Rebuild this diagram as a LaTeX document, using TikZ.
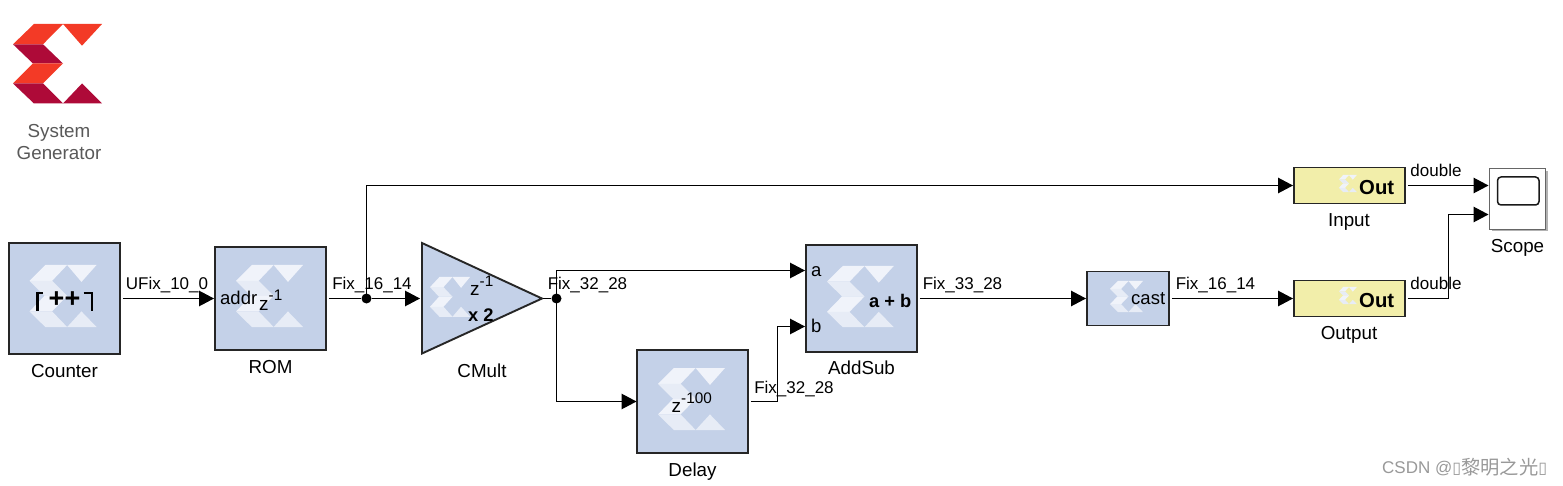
\documentclass[tikz,border=0pt]{standalone}
\usepackage{fontspec}
\setmainfont{Liberation Sans}
\newfontfamily\cjkfont{Noto Sans CJK SC}
\newfontfamily\symfont{DejaVu Sans}
\usetikzlibrary{arrows.meta,calc}
\definecolor{blockblue}{HTML}{C4D1E8}
\definecolor{gatewayyellow}{HTML}{F2EEAA}
\definecolor{logored}{HTML}{F33A26}
\definecolor{logodark}{HTML}{AE0A38}
\definecolor{wmtop}{HTML}{F0F3FA}
\definecolor{wmlow}{HTML}{E7ECF6}
\newcommand{\xlogo}[6]{%
\begin{scope}[shift={(#1,#2)},xscale=#3,yscale=#4]
\fill[#5] (21,0)--(50,0)--(30,20.3)--(0,20.3)--cycle;
\fill[#5] (50,0)--(89,0)--(69,21.7)--cycle;
\fill[#6] (0,20.3)--(30,20.3)--(50,39.5)--(20,39.5)--cycle;
\fill[#5] (20,39.5)--(50,39.5)--(30,59.5)--(0,59.5)--cycle;
\fill[#6] (0,59.5)--(30,59.5)--(50,79.5)--(21,79.5)--cycle;
\fill[#6] (50,79.5)--(69,59.5)--(89,79.5)--cycle;
\end{scope}}
\newcommand{\zexp}[1]{{\fontsize{19}{20}\selectfont z}\raisebox{9.5pt}{\fontsize{15.3}{17}\selectfont #1}}
\tikzset{
  bl/.style={draw=black!85,line width=1.9pt,fill=blockblue,inner sep=0pt,minimum width=#1},
  gw/.style={draw=black!85,line width=1.9pt,fill=gatewayyellow,inner sep=0pt,minimum width=111pt,minimum height=36pt},
  sig/.style={anchor=base,inner sep=0pt,font=\fontsize{17}{18}\selectfont},
  capt/.style={anchor=base,inner sep=0pt,font=\fontsize{18.8}{20}\selectfont},
  intxt/.style={anchor=base,inner sep=0pt,font=\fontsize{18.5}{19}\selectfont},
  boldtxt/.style={anchor=base,inner sep=0pt,font=\fontsize{18.3}{20}\selectfont\bfseries},
  wire/.style={line width=1.2pt,black},
  arr/.style={wire,-{Triangle[length=15pt,width=15.5pt]}},
  jdot/.style={circle,fill=black,inner sep=0pt,minimum size=10pt}
}
\begin{document}
\begin{tikzpicture}[x=1pt,y=-1pt]
\useasboundingbox (0,0) rectangle (1563,486);
\fill[white] (0,0) rectangle (1563,486);
% company logo
\xlogo{13}{24}{1}{1}{logored}{logodark}
\node[capt,text=black!65] (sys) at (59,138) {System};
\node[capt,text=black!65] (gen) at (59,160) {Generator};
% blocks
\node[bl=111pt,minimum height=111pt] (counter) at (64.5,298.5) {};
\xlogo{29.5}{265}{.753}{.78}{wmtop}{wmlow}
\draw[line width=2.5pt] (43,293)--(37.5,293)--(37.5,310.5);
\draw[line width=2.5pt] (83.5,293)--(92,293)--(92,310.5);
\node[anchor=center,inner sep=0pt,font=\fontsize{27}{28}\selectfont\bfseries] (pp) at (64.5,300) {++};
\node[bl=111pt,minimum height=103pt] (rom) at (270.5,298.5) {};
\xlogo{236}{265}{.753}{.78}{wmtop}{wmlow}
\node[intxt,anchor=base west] (addr) at (220,305) {addr};
\node[intxt,anchor=base west] (romz) at (259,310) {\zexp{-1}};
\draw[line width=1.9pt,draw=black!85,fill=blockblue] (422,243)--(542,298.5)--(422,353.5)--cycle;
\coordinate (cmultin) at (420,298.5);
\coordinate (cmultout) at (543,298.5);
\xlogo{430}{277}{.45}{.5}{wmtop}{wmlow}
\node[intxt,anchor=base west] (cmz) at (470,296) {\zexp{-1}};
\node[boldtxt,anchor=base west] (x2) at (468,321) {x 2};
\node[bl=111pt,minimum height=107pt] (addsub) at (861.5,298.5) {};
\xlogo{827}{266}{.75}{.77}{wmtop}{wmlow}
\node[intxt,anchor=base west] (pa) at (811,276.5) {a};
\node[intxt,anchor=base west] (pb) at (811,332.5) {b};
\node[boldtxt,anchor=base west] (apb) at (869,307.5) {a + b};
\node[bl=111pt,minimum height=103pt] (delay) at (692.5,401.5) {};
\xlogo{658}{368}{.753}{.78}{wmtop}{wmlow}
\node[intxt,anchor=base west] (dz) at (671.5,412.5) {\zexp{-100}};
\node[bl=82pt,minimum height=54pt] (cast) at (1128,298.5) {};
\xlogo{1110}{281}{.37}{.39}{wmtop}{wmlow}
\node[intxt,anchor=base west] (casttxt) at (1131,305) {cast};
\node[gw] (input) at (1349.5,185.5) {};
\xlogo{1339}{175}{.2}{.215}{wmtop}{wmlow}
\node[anchor=base west,inner sep=0pt,font=\fontsize{20.3}{22}\selectfont\bfseries] (o1) at (1359,195) {Out};
\node[gw] (output) at (1349.5,298.5) {};
\xlogo{1339}{287}{.2}{.215}{wmtop}{wmlow}
\node[anchor=base west,inner sep=0pt,font=\fontsize{20.3}{22}\selectfont\bfseries] (o2) at (1359,307) {Out};
\fill[black!30] (1491.5,171.5) rectangle (1547.5,231.5);
\node[draw=black!60,line width=1pt,fill=white,inner sep=0pt,minimum width=56pt,minimum height=61pt] (scope) at (1517.5,199.5) {};
\draw[line width=1.5pt,rounded corners=3.5pt,black!90] (1497.5,177)rectangle (1539,205);
% captions
\node[capt] (lcounter) at (64.5,377) {Counter};
\node[capt] (lrom) at (270.5,373) {ROM};
\node[capt] (lcmult) at (482,377) {CMult};
\node[capt] (ldelay) at (692.5,476) {Delay};
\node[capt] (laddsub) at (861.5,374) {AddSub};
\node[capt] (linput) at (1349,227) {Input};
\node[capt] (loutput) at (1349,339) {Output};
\node[capt] (lscope) at (1517.5,252.5) {Scope};
% ports and junctions
\coordinate (romin) at (214,298.5);
\coordinate (ain) at (805,270.5);
\coordinate (bin) at (805,326.5);
\coordinate (delayin) at (636.5,401.5);
\coordinate (castin) at (1086,298.5);
\coordinate (in1) at (1293,185.5);
\coordinate (in2) at (1293,298.5);
\coordinate (sc1) at (1488.5,185.5);
\coordinate (sc2) at (1488.5,214.5);
\node[jdot] (j1) at (366.5,298.5) {};
\node[jdot] (j2) at (556.5,298.5) {};
% connectors
\draw[arr,shorten <=2pt] (counter.east) -- (romin);
\draw[wire,shorten <=2pt] (rom.east) -- (j1);
\draw[arr] (j1) -- (cmultin);
\draw[arr] (j1.center) |- (in1);
\draw[wire] (cmultout) -- (j2);
\draw[arr] (j2.center) |- (ain);
\draw[arr] (j2.center) |- (delayin);
\draw[arr,shorten <=2pt] (delay.east) -- (777.5,401.5) |- (bin);
\draw[arr,shorten <=2pt] (addsub.east) -- (castin);
\draw[arr,shorten <=2pt] (cast.east) -- (in2);
\draw[arr,shorten <=2pt] (input.east) -- (sc1);
\draw[arr,shorten <=2pt] (output.east) -- (1448.5,298.5) |- (sc2);
% signal labels
\node[sig] (s1) at (167,290) {UFix\_10\_0};
\node[sig] (s2) at (372,290) {Fix\_16\_14};
\node[sig] (s3) at (587.5,290) {Fix\_32\_28};
\node[sig] (s4) at (794,393) {Fix\_32\_28};
\node[sig] (s5) at (962.5,290) {Fix\_33\_28};
\node[sig] (s6) at (1215.5,290) {Fix\_16\_14};
\node[sig] (s7) at (1436,177) {double};
\node[sig] (s8) at (1436,289.7) {double};
% watermark
\node[anchor=base west,inner sep=0pt,text=black!40,font=\fontsize{17}{18}\selectfont] (wm) at (1382,473.5) {CSDN @{\symfont\fontsize{16}{17}\selectfont ▯}\raisebox{-1pt}{\cjkfont\fontsize{19.3}{20}\selectfont 黎明之光}{\symfont\fontsize{16}{17}\selectfont ▯}};
\end{tikzpicture}
\end{document}
